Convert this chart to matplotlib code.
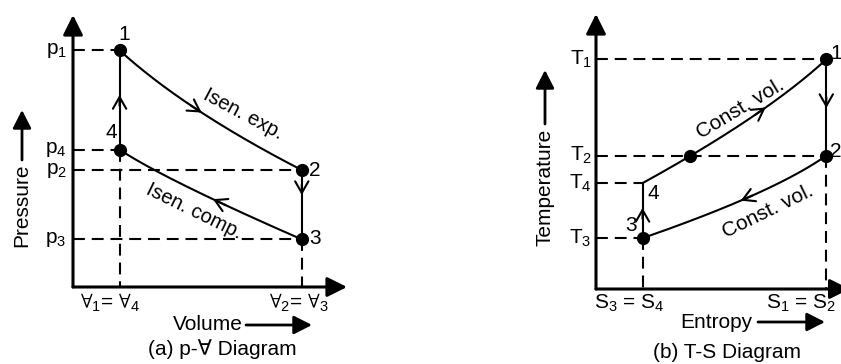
import numpy as np
import matplotlib
matplotlib.use("Agg")
import matplotlib.pyplot as plt

plt.rcParams['font.family'] = ['Liberation Sans', 'DejaVu Sans']
plt.rcParams['mathtext.fontset'] = 'custom'
plt.rcParams['mathtext.rm'] = 'Liberation Sans'
plt.rcParams['mathtext.it'] = 'Liberation Sans:italic'
plt.rcParams['mathtext.bf'] = 'Liberation Sans:bold'
plt.rcParams['mathtext.default'] = 'regular'
plt.rcParams['mathtext.fallback'] = 'stixsans'

# ---------------- data (diagram units, origin at the axes corner) ----------------
# p-V diagram, states 1..4
pv_states = ['1', '2', '3', '4']
pv_V = [1.7, 8.35, 8.35, 1.7]
pv_p = [8.7, 4.3, 1.75, 5.05]
pv_p_labels = ['p$_1$', 'p$_2$', 'p$_3$', 'p$_4$']
pv_exp_ctrl = (4.1, 6.5)     # control point of isentropic expansion 1-2
pv_comp_ctrl = (3.35, 3.95)  # control point of isentropic compression 4-3
pv_V_labels = ['$\\forall_1$= $\\forall_4$', '$\\forall_2$= $\\forall_3$']

# T-S diagram, states 1..4
ts_states = ['1', '2', '3', '4']
ts_S = [9.4, 9.4, 1.9, 1.9]
ts_T = [8.35, 4.85, 1.85, 3.85]
ts_T_labels = ['T$_1$', 'T$_2$', 'T$_3$', 'T$_4$']
ts_heat_ctrl = (6.9, 6.3)    # control point of const. vol. heat addition 4-1
ts_rej_ctrl = (7.25, 3.5)    # control point of const. vol. heat rejection 2-3
ts_mid_S = 3.85              # marked point on curve 4-1 at T2
ts_mid_T = 4.85
ts_S_labels = ['S$_3$ = S$_4$', 'S$_1$ = S$_2$']

W, H = 841, 364
fig = plt.figure(figsize=(W / 100, H / 100), dpi=100)
fig.patch.set_facecolor('white')

LW = 1.5
DASH = (0, (5.7, 3.3))
FS = 15


def ftext(x, y, s, **kw):
    kw.setdefault('fontsize', FS)
    fig.text(x / W, 1 - y / H, s, **kw)


def farrow(x0, y0, x1, y1, hl=0.55, hw=0.28):
    fig.add_artist(matplotlib.patches.FancyArrowPatch(
        (x0 / W, 1 - y0 / H), (x1 / W, 1 - y1 / H), transform=fig.transFigure,
        arrowstyle=f'-|>,head_length={hl},head_width={hw}', mutation_scale=20,
        lw=2, color='black', shrinkA=0, shrinkB=0))


def bezier(p0, c, p2, t):
    t = np.asarray(t, dtype=float)
    x = (1 - t) ** 2 * p0[0] + 2 * t * (1 - t) * c[0] + t ** 2 * p2[0]
    y = (1 - t) ** 2 * p0[1] + 2 * t * (1 - t) * c[1] + t ** 2 * p2[1]
    return x, y


def chevron(ax, tip, back):
    ax.annotate('', xy=tip, xytext=back,
                arrowprops=dict(arrowstyle='->,head_length=0.42,head_width=0.24',
                                mutation_scale=20, lw=LW, color='black',
                                shrinkA=0, shrinkB=0), annotation_clip=False)


def curve(ax, p0, c, p2, t_arrow):
    tt = np.linspace(0, 1, 200)
    x, y = bezier(p0, c, p2, tt)
    ax.plot(x, y, color='black', lw=LW, clip_on=False, solid_capstyle='round')
    tip = bezier(p0, c, p2, t_arrow)
    back = bezier(p0, c, p2, t_arrow - 0.06)
    chevron(ax, (float(tip[0]), float(tip[1])), (float(back[0]), float(back[1])))


def vline_arrow(ax, x, y0, y1, y_tip):
    ax.plot([x, x], [y0, y1], color='black', lw=LW, clip_on=False)
    d = 0.4 if y1 > y0 else -0.4
    chevron(ax, (x, y_tip), (x, y_tip - d))


def axes_frame(ax, xtip, ytip):
    for tip in [(xtip, 0), (0, ytip)]:
        ax.annotate('', xy=tip, xytext=(0, 0),
                    arrowprops=dict(arrowstyle='-|>,head_length=0.6,head_width=0.3',
                                    mutation_scale=20, lw=2.2, color='black',
                                    shrinkA=0, shrinkB=0), annotation_clip=False)


def guides(ax, xs, ys):
    for x, y in zip(xs, ys):
        ax.plot([0, x], [y, y], color='black', lw=LW, linestyle=DASH, clip_on=False)
    for x in sorted(set(xs)):
        ymin = min(y for xx, y in zip(xs, ys) if xx == x)
        ax.plot([x, x], [ymin, 0], color='black', lw=LW, linestyle=DASH, clip_on=False)


# ================= (a) p-V diagram =================
axL = fig.add_axes([73 / W, (H - 287) / H, 274 / W, 272 / H])
axL.set_xlim(0, 10)
axL.set_ylim(0, 10)
axL.axis('off')

guides(axL, pv_V, pv_p)
axes_frame(axL, 10, 10)

P = {s: (v, p) for s, v, p in zip(pv_states, pv_V, pv_p)}
curve(axL, P['1'], pv_exp_ctrl, P['2'], 0.52)
curve(axL, P['3'], pv_comp_ctrl, P['4'], 0.37)
vline_arrow(axL, P['2'][0], P['2'][1], P['3'][1], 3.38)
vline_arrow(axL, P['4'][0], P['4'][1], P['1'][1], 7.06)
axL.plot(pv_V, pv_p, 'o', color='black', ms=8.5, clip_on=False, zorder=5)

offs_L = {'1': (3.6, 11.5), '2': (9.4, 0), '3': (9.4, 0.5), '4': (-5.8, 12.2)}
for s in pv_states:
    axL.annotate(s, xy=P[s], xytext=offs_L[s], textcoords='offset points',
                 ha='center', va='center', fontsize=FS, annotation_clip=False)
for lab, p in zip(pv_p_labels, pv_p):
    axL.annotate(lab, xy=(0, p), xytext=(-4.5, 0), textcoords='offset points',
                 ha='right', va='center', fontsize=FS, annotation_clip=False)

ftext(110, 303, pv_V_labels[0], ha='center', va='center')
ftext(299, 303, pv_V_labels[1], ha='center', va='center')
ftext(243, 325, 'Volume', ha='right', va='center')
farrow(246, 325, 312, 325)
ftext(222, 349, '(a) p-\u2200 Diagram', ha='center', va='center')
ftext(22, 205, 'Pressure', ha='center', va='center', rotation=90)
farrow(22, 160, 22, 110)
ftext(243, 114, 'Isen. exp.', ha='center', va='center', rotation=-28,
      rotation_mode='anchor', fontsize=14.5)
ftext(194, 211, 'Isen. comp.', ha='center', va='center', rotation=-26,
      rotation_mode='anchor', fontsize=14.5)

# ================= (b) T-S diagram =================
axR = fig.add_axes([596 / W, (H - 289) / H, 245 / W, 275 / H])
axR.set_xlim(0, 10)
axR.set_ylim(0, 10)
axR.axis('off')

guides(axR, ts_S, ts_T)
axes_frame(axR, 10.35, 10)

Q = {s: (v, t) for s, v, t in zip(ts_states, ts_S, ts_T)}
curve(axR, Q['4'], ts_heat_ctrl, Q['1'], 0.59)
curve(axR, Q['2'], ts_rej_ctrl, Q['3'], 0.57)
vline_arrow(axR, Q['1'][0], Q['1'][1], Q['2'][1], 6.58)
vline_arrow(axR, Q['3'][0], Q['3'][1], Q['4'][1], 2.95)
axR.plot([Q['1'][0], Q['2'][0], Q['3'][0], ts_mid_S],
         [Q['1'][1], Q['2'][1], Q['3'][1], ts_mid_T],
         'o', color='black', ms=8.5, clip_on=False, zorder=5)

offs_R = {'1': (6.8, 4.3), '2': (6.8, 3), '3': (-8, 9.4), '4': (8, -7.2)}
for s in ts_states:
    axR.annotate(s, xy=Q[s], xytext=offs_R[s], textcoords='offset points',
                 ha='center', va='center', fontsize=FS, annotation_clip=False)
for lab, t in zip(ts_T_labels, ts_T):
    axR.annotate(lab, xy=(0, t), xytext=(-3, 0), textcoords='offset points',
                 ha='right', va='center', fontsize=FS, annotation_clip=False)

ftext(629, 303, ts_S_labels[0], ha='center', va='center')
ftext(801, 303, ts_S_labels[1], ha='center', va='center')
ftext(752, 322, 'Entropy', ha='right', va='center')
farrow(758, 322, 825, 322)
ftext(727, 352, '(b) T-S Diagram', ha='center', va='center')
ftext(545, 187, 'Temperature', ha='center', va='center', rotation=90)
farrow(545, 124, 545, 70)
ftext(740, 109, 'Const. vol.', ha='center', va='center', rotation=31,
      rotation_mode='anchor', fontsize=15)
ftext(768, 211, 'Const. vol.', ha='center', va='center', rotation=26,
      rotation_mode='anchor', fontsize=15)

fig.savefig('out.png', dpi=100, facecolor='white')
